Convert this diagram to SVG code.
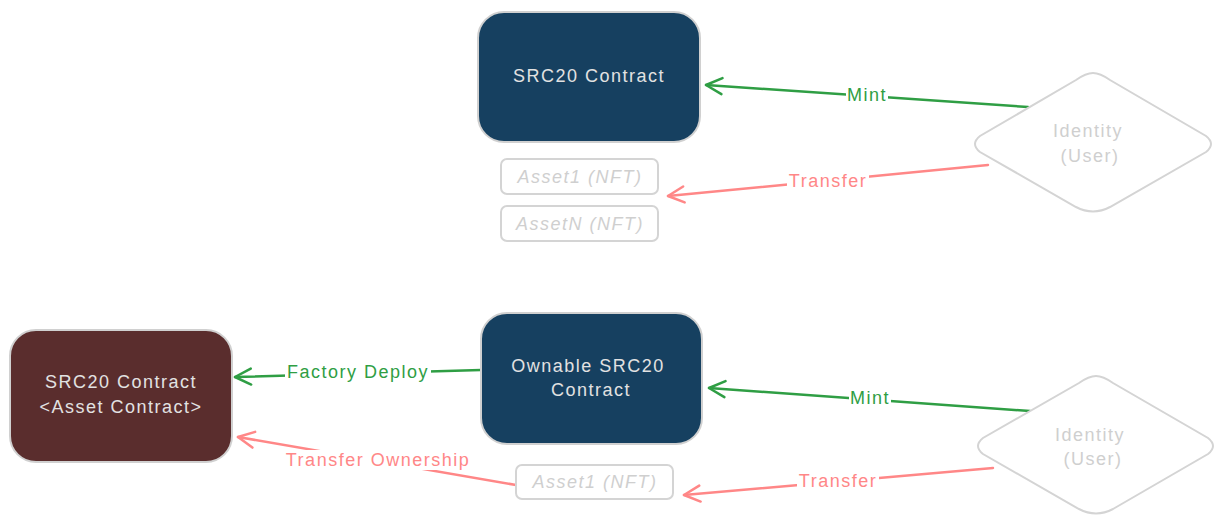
<svg xmlns="http://www.w3.org/2000/svg" width="1232" height="531" viewBox="0 0 1232 531">
<defs>
<style>
.box{stroke:#d0d0d0;stroke-width:2}
.blue{fill:#164060}
.brown{fill:#5a2d2d}
.ghost{fill:#ffffff;stroke:#d4d4d4;stroke-width:2}
.t{font-family:"Liberation Sans",Arial,sans-serif;font-size:18px;letter-spacing:1.5px;text-anchor:middle;dominant-baseline:central}
.tl{fill:#e2e2e2}
.tg{fill:#cfcfcf}
.lbl{font-family:"Liberation Sans",Arial,sans-serif;font-size:18px;letter-spacing:1.5px;text-anchor:middle;dominant-baseline:central}
.g{stroke:#2f9e44;stroke-width:2.5;fill:none;stroke-linecap:round}
.r{stroke:#ff8787;stroke-width:2.5;fill:none;stroke-linecap:round}
</style>
<marker id="ag" viewBox="0 0 20 20" refX="18" refY="10" markerWidth="20" markerHeight="20" markerUnits="userSpaceOnUse" orient="auto">
<path d="M2 2 L18 10 L2 18" fill="none" stroke="#2f9e44" stroke-width="2.5" stroke-linecap="round" stroke-linejoin="round"/>
</marker>
<marker id="ar" viewBox="0 0 20 20" refX="18" refY="10" markerWidth="20" markerHeight="20" markerUnits="userSpaceOnUse" orient="auto">
<path d="M2 2 L18 10 L2 18" fill="none" stroke="#ff8787" stroke-width="2.5" stroke-linecap="round" stroke-linejoin="round"/>
</marker>
</defs>
<rect width="1232" height="531" fill="#ffffff"/>

<g id="connectors">
<line class="g" x1="1028" y1="107" x2="706" y2="85" marker-end="url(#ag)"/>
<line class="r" x1="988" y1="165" x2="668" y2="196" marker-end="url(#ar)"/>
<line class="g" x1="1030" y1="411" x2="709" y2="388" marker-end="url(#ag)"/>
<line class="r" x1="993" y1="468" x2="684" y2="495" marker-end="url(#ar)"/>
<line class="g" x1="481" y1="370" x2="235" y2="377" marker-end="url(#ag)"/>
<line class="r" x1="516" y1="485" x2="238" y2="437" marker-end="url(#ar)"/>
<g id="labels">
<rect x="846" y="86" width="42" height="18" fill="#fff"/>
<text class="lbl" x="867" y="95" fill="#2f9e44">Mint</text>
<rect x="787" y="172" width="82" height="18" fill="#fff"/>
<text class="lbl" x="828" y="181" fill="#ff8787">Transfer</text>
<rect x="849" y="389" width="42" height="18" fill="#fff"/>
<text class="lbl" x="870" y="398" fill="#2f9e44">Mint</text>
<rect x="797" y="472" width="82" height="18" fill="#fff"/>
<text class="lbl" x="838" y="481" fill="#ff8787">Transfer</text>
<rect x="285" y="362" width="146" height="20" fill="#fff"/>
<text class="lbl" x="358" y="372" fill="#2f9e44">Factory Deploy</text>
<rect x="284" y="450" width="188" height="20" fill="#fff"/>
<text class="lbl" x="378" y="460" fill="#ff8787">Transfer Ownership</text>
</g>
</g>

<g id="src20-top">
<rect class="box blue" x="478" y="12" width="222" height="130" rx="26"/>
<text class="t tl" x="589" y="76">SRC20 Contract</text>
</g>
<g id="asset1-top">
<rect class="ghost" x="501" y="159" width="157" height="35" rx="6"/>
<text class="t tg" x="580" y="177" font-style="italic">Asset1 (NFT)</text>
</g>
<g id="assetN-top">
<rect class="ghost" x="501" y="206" width="157" height="35" rx="6"/>
<text class="t tg" x="580" y="224" font-style="italic">AssetN (NFT)</text>
</g>
<g id="identity-top">
<path class="ghost" d="M1093 73 Q1100 73 1110 80 L1206 136 Q1216 144 1206 152 L1110 207 Q1093 216 1076 207 L980 152 Q970 144 980 136 L1076 80 Q1086 73 1093 73 Z"/>
<text class="t tg" x="1088" y="131">Identity</text>
<text class="t tg" x="1090" y="156">(User)</text>
</g>

<g id="src20-asset">
<rect class="box brown" x="10" y="330" width="222" height="132" rx="26"/>
<text class="t tl" x="121" y="382">SRC20 Contract</text>
<text class="t tl" x="121" y="407">&lt;Asset Contract&gt;</text>
</g>
<g id="ownable-src20">
<rect class="box blue" x="481" y="313" width="221" height="131" rx="26"/>
<text class="t tl" x="588" y="366">Ownable SRC20</text>
<text class="t tl" x="591" y="390">Contract</text>
</g>
<g id="asset1-bottom">
<rect class="ghost" x="516" y="465" width="157" height="34" rx="6"/>
<text class="t tg" x="595" y="482" font-style="italic">Asset1 (NFT)</text>
</g>
<g id="identity-bottom">
<path class="ghost" d="M1096 376 Q1103 376 1113 383 L1208 438 Q1218 446 1208 454 L1113 509 Q1096 518 1079 509 L983 454 Q973 446 983 438 L1079 383 Q1089 376 1096 376 Z"/>
<text class="t tg" x="1090" y="435">Identity</text>
<text class="t tg" x="1093" y="459">(User)</text>
</g>
</svg>
